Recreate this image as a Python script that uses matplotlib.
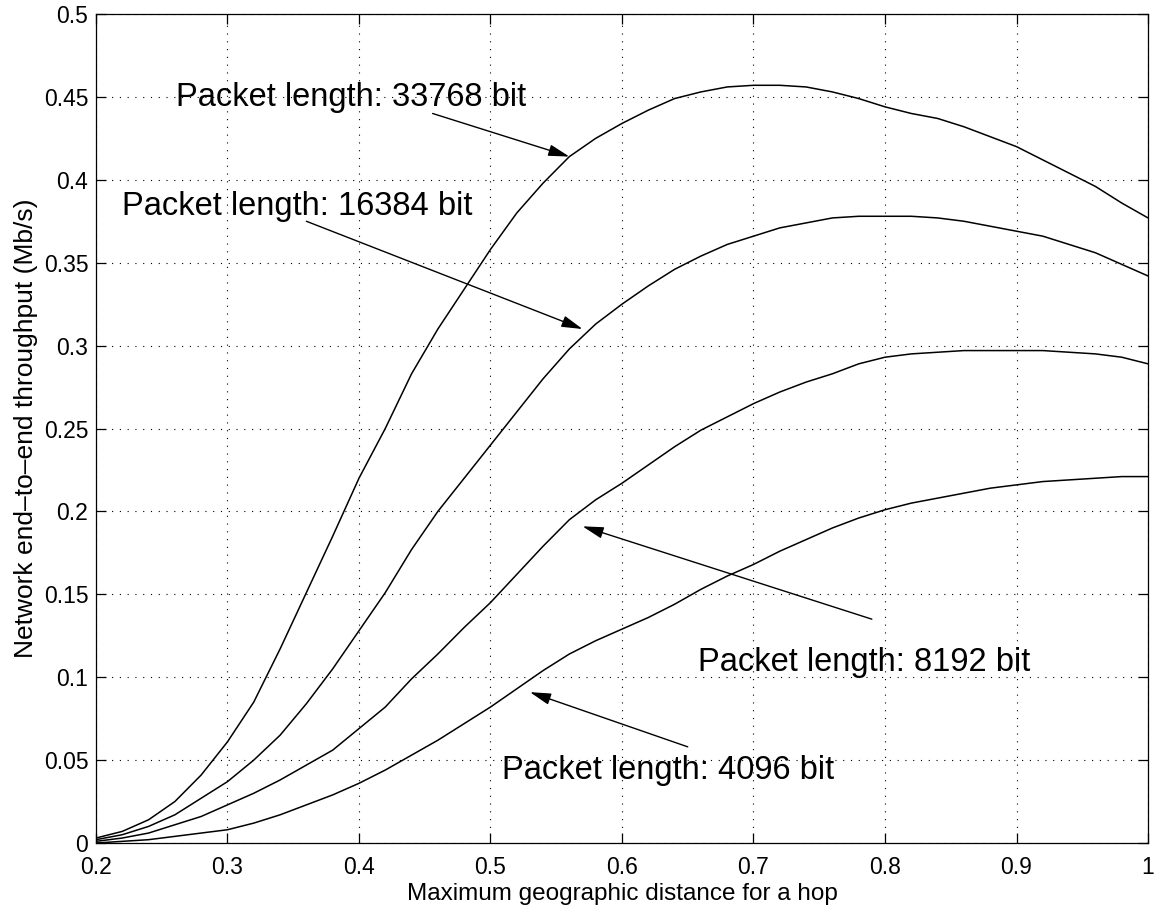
import numpy as np
import matplotlib
matplotlib.use("Agg")
import matplotlib.pyplot as plt

# ---------------- data ----------------
x = [0.20, 0.22, 0.24, 0.26, 0.28, 0.30, 0.32, 0.34, 0.36, 0.38,
     0.40, 0.42, 0.44, 0.46, 0.48, 0.50, 0.52, 0.54, 0.56, 0.58,
     0.60, 0.62, 0.64, 0.66, 0.68, 0.70, 0.72, 0.74, 0.76, 0.78,
     0.80, 0.82, 0.84, 0.86, 0.88, 0.90, 0.92, 0.94, 0.96, 0.98, 1.00]

thr_33768 = [0.003, 0.007, 0.014, 0.025, 0.041, 0.061, 0.085, 0.117, 0.151, 0.185,
             0.220, 0.250, 0.283, 0.310, 0.334, 0.358, 0.380, 0.398, 0.414, 0.425,
             0.434, 0.442, 0.449, 0.453, 0.456, 0.457, 0.457, 0.456, 0.453, 0.449,
             0.444, 0.440, 0.437, 0.432, 0.426, 0.420, 0.412, 0.404, 0.396, 0.386, 0.377]

thr_16384 = [0.002, 0.005, 0.010, 0.017, 0.027, 0.037, 0.050, 0.065, 0.084, 0.105,
             0.128, 0.151, 0.177, 0.200, 0.220, 0.240, 0.260, 0.280, 0.298, 0.313,
             0.325, 0.336, 0.346, 0.354, 0.361, 0.366, 0.371, 0.374, 0.377, 0.378,
             0.378, 0.378, 0.377, 0.375, 0.372, 0.369, 0.366, 0.361, 0.356, 0.349, 0.342]

thr_8192 = [0.001, 0.003, 0.006, 0.011, 0.016, 0.023, 0.030, 0.038, 0.047, 0.056,
            0.069, 0.082, 0.099, 0.114, 0.130, 0.145, 0.162, 0.179, 0.195, 0.207,
            0.217, 0.228, 0.239, 0.249, 0.257, 0.265, 0.272, 0.278, 0.283, 0.289,
            0.293, 0.295, 0.296, 0.297, 0.297, 0.297, 0.297, 0.296, 0.295, 0.293, 0.289]

thr_4096 = [0.000, 0.001, 0.002, 0.004, 0.006, 0.008, 0.012, 0.017, 0.023, 0.029,
            0.036, 0.044, 0.053, 0.062, 0.072, 0.082, 0.093, 0.104, 0.114, 0.122,
            0.129, 0.136, 0.144, 0.153, 0.161, 0.168, 0.176, 0.183, 0.190, 0.196,
            0.201, 0.205, 0.208, 0.211, 0.214, 0.216, 0.218, 0.219, 0.220, 0.221, 0.221]

series = [thr_33768, thr_16384, thr_8192, thr_4096]

labels = ["Packet length: 33768 bit", "Packet length: 16384 bit",
          "Packet length: 8192 bit", "Packet length: 4096 bit"]
label_pos = [(0.261, 0.4446), (0.220, 0.379), (0.658, 0.104), (0.509, 0.0386)]
arrow_tail = [(0.456, 0.440), (0.360, 0.375), (0.790, 0.135), (0.650, 0.058)]
arrow_tip = [(0.560, 0.414), (0.570, 0.310), (0.570, 0.191), (0.530, 0.091)]

xticks = [0.2, 0.3, 0.4, 0.5, 0.6, 0.7, 0.8, 0.9, 1.0]
xticklabels = ["0.2", "0.3", "0.4", "0.5", "0.6", "0.7", "0.8", "0.9", "1"]
yticks = [0, 0.05, 0.1, 0.15, 0.2, 0.25, 0.3, 0.35, 0.4, 0.45, 0.5]
yticklabels = ["0", "0.05", "0.1", "0.15", "0.2", "0.25", "0.3", "0.35", "0.4", "0.45", "0.5"]

# ---------------- plot ----------------
plt.rcParams['font.family'] = ['Liberation Sans', 'DejaVu Sans']

fig = plt.figure(figsize=(11.56, 9.09), dpi=100)
ax = fig.add_axes([0.0830, 0.0726, 0.9101, 0.9120])

for s in series:
    ax.plot(x, s, color='black', linewidth=1.1)

ax.set_xlim(0.2, 1.0)
ax.set_ylim(0, 0.5)
ax.set_xticks(xticks)
ax.set_xticklabels(xticklabels)
ax.set_yticks(yticks)
ax.set_yticklabels(yticklabels)

ax.tick_params(direction='in', length=7, width=0.9, top=True, right=True,
               labelsize=16.5, colors='black')
ax.tick_params(axis='y', pad=5.5)
ax.tick_params(axis='x', pad=9.5)
ax.grid(True, color='black', linestyle=(0, (1, 6)), linewidth=0.8)
for sp in ax.spines.values():
    sp.set_linewidth(0.9)
    sp.set_color('black')

ax.set_xlabel("Maximum geographic distance for a hop", fontsize=17.5, labelpad=3)
ax.set_ylabel("Network end\u2013to\u2013end throughput (Mb/s)", fontsize=19, labelpad=4)

for lab, (tx, ty), (ax0, ay0), (bx, by) in zip(labels, label_pos, arrow_tail, arrow_tip):
    ax.text(tx, ty, lab, fontsize=23.5, ha='left', va='baseline', color='black')
    ax.annotate("", xy=(bx, by), xytext=(ax0, ay0),
                arrowprops=dict(arrowstyle='-|>,head_length=0.8,head_width=0.22',
                                color='black', lw=1.0, mutation_scale=16,
                                shrinkA=0, shrinkB=0))

fig.savefig("out.png", dpi=100)
